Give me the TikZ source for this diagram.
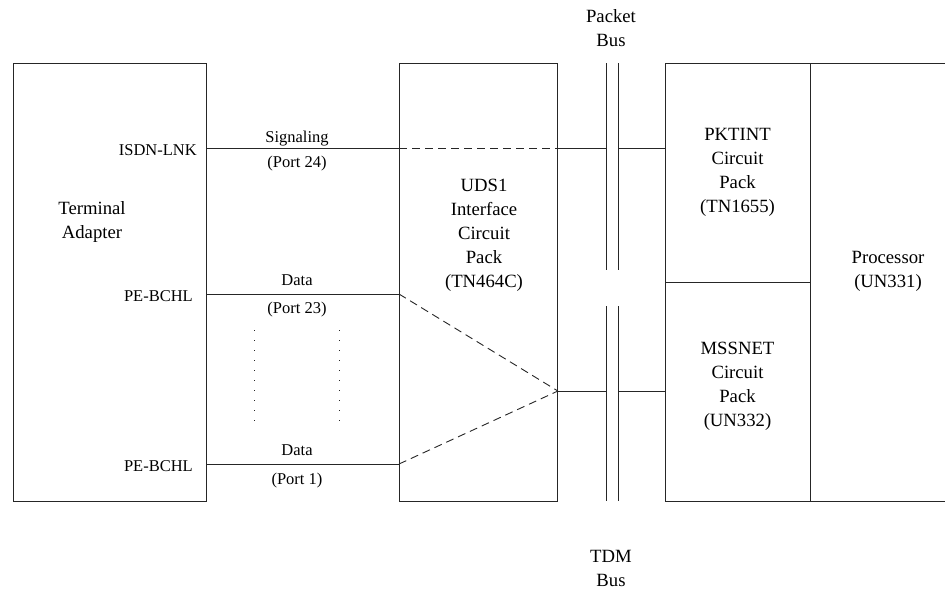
\documentclass[tikz,border=0pt]{standalone}
\usepackage{fontspec}
\setmainfont{Liberation Serif}
\begin{document}
\begin{tikzpicture}[x=1pt,y=-1pt,
  ln/.style={line width=0.9pt,draw=black!85},
  boxst/.style={ln,rectangle,inner sep=0pt,anchor=north west},
  dsh/.style={ln,dash pattern=on 8pt off 5pt},
  dts/.style={line width=1pt,draw=black!85,dash pattern=on 1pt off 9pt},
  big/.style={font=\fontsize{18.7}{24}\selectfont,align=center,inner sep=0pt},
  lab/.style={font=\fontsize{16.5}{20}\selectfont,inner sep=0pt}]
\useasboundingbox (0,0) rectangle (945,590);
% boxes
\node[boxst,minimum width=193pt,minimum height=438pt] (ta) at (13,63) {};
\node[boxst,minimum width=158pt,minimum height=438pt] (uds) at (399,63) {};
\node[boxst,minimum width=145pt,minimum height=219pt] (pkt) at (665,63) {};
\node[boxst,minimum width=145pt,minimum height=219pt] (mss) at (665,282) {};
\coordinate (prtl) at (810,63);
\coordinate (prbl) at (810,501);
\coordinate (prtr) at (946,63);
\coordinate (prbr) at (946,501);
\draw[ln] (prtr) -- (prtl) -- (prbl) -- (prbr);
% bus lines
\coordinate (pb1t) at (606,63); \coordinate (pb1b) at (606,270);
\coordinate (pb2t) at (618,63); \coordinate (pb2b) at (618,270);
\coordinate (tb1t) at (606,306); \coordinate (tb1b) at (606,501);
\coordinate (tb2t) at (618,306); \coordinate (tb2b) at (618,501);
\draw[ln] (pb1t) -- (pb1b); \draw[ln] (pb2t) -- (pb2b);
\draw[ln] (tb1t) -- (tb1b); \draw[ln] (tb2t) -- (tb2b);
% texts in boxes
\node[big] (tatxt) at (92,222) {Terminal\\Adapter};
\node[big] (udstxt) at (484,235) {UDS1\\Interface\\Circuit\\Pack\\(TN464C)};
\node[big] (pkttxt) at (737.5,172) {PKTINT\\Circuit\\Pack\\(TN1655)};
\node[big] (msstxt) at (737.5,386) {MSSNET\\Circuit\\Pack\\(UN332)};
\node[big] (proc) at (888,271) {Processor\\(UN331)};
\node[big] (pbus) at (611,28) {Packet\\Bus};
\node[big] (tbus) at (611,568) {TDM\\Bus};
% port labels
\node[lab,anchor=east] (isdn) at (197,150) {ISDN-LNK};
\node[lab,anchor=east] (pe1) at (193,296) {PE-BCHL};
\node[lab,anchor=east] (pe2) at (193,466) {PE-BCHL};
\node[lab] (sig) at (297,139) {Signaling};
\node[lab] (p24) at (297,164) {(Port 24)};
\node[lab] (d23) at (297,280) {Data};
\node[lab] (p23) at (297,310) {(Port 23)};
\node[lab] (d1) at (297,450) {Data};
\node[lab] (p1) at (297,481) {(Port 1)};
% coordinates on edges
\coordinate (a1) at (ta.east |- 0,148);
\coordinate (a2) at (ta.east |- 0,294);
\coordinate (a3) at (ta.east |- 0,464);
\coordinate (u1) at (uds.west |- 0,148);
\coordinate (u2) at (uds.west |- 0,294);
\coordinate (u3) at (uds.west |- 0,464);
\coordinate (ue1) at (uds.east |- 0,148);
\coordinate (ue2) at (uds.east |- 0,391);
\coordinate (k1) at (pkt.west |- 0,148);
\coordinate (k2) at (mss.west |- 0,391);
\coordinate (b1) at (606,148); \coordinate (b2) at (618,148);
\coordinate (b3) at (606,391); \coordinate (b4) at (618,391);
% connectors
\draw[ln] (a1) -- (u1);
\draw[dsh] (u1) -- (ue1);
\draw[ln] (ue1) -- (b1);
\draw[ln] (b2) -- (k1);
\draw[ln] (a2) -- (u2);
\draw[ln] (a3) -- (u3);
\draw[dsh] (u2) -- (ue2);
\draw[dsh] (u3) -- (ue2);
\draw[ln] (ue2) -- (b3);
\draw[ln] (b4) -- (k2);
% dotted
\coordinate (dt1) at (254,330); \coordinate (db1) at (254,430);
\coordinate (dt2) at (339,330); \coordinate (db2) at (339,430);
\draw[dts] (dt1) -- (db1);
\draw[dts] (dt2) -- (db2);
\end{tikzpicture}
\end{document}
